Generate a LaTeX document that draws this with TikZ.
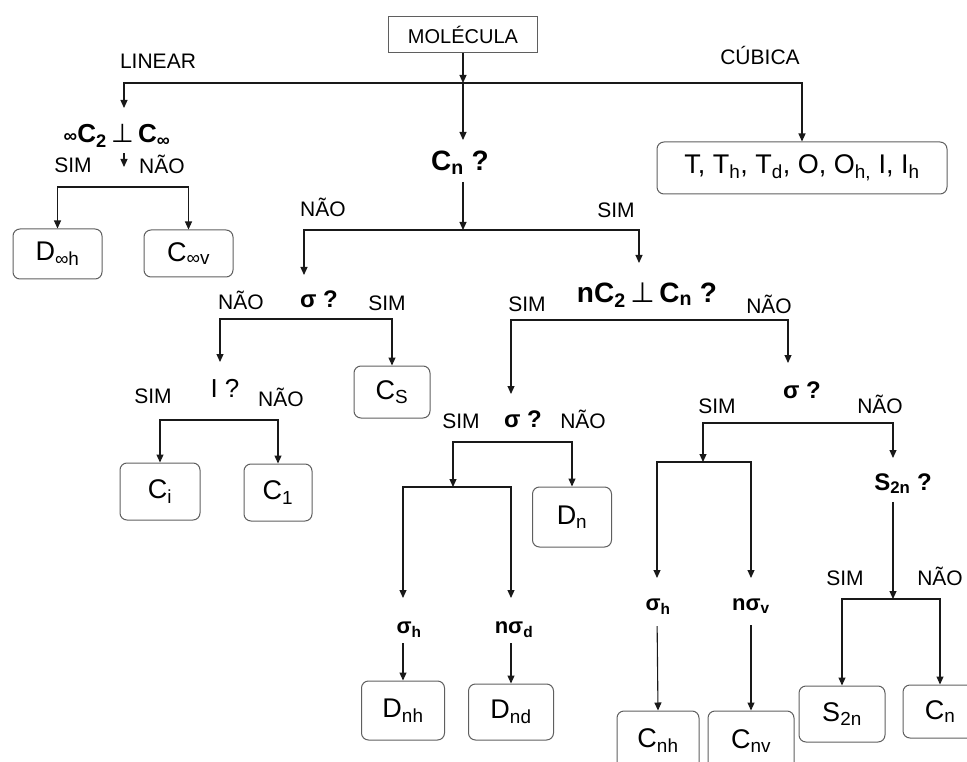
\documentclass[tikz,border=0pt]{standalone}
\usepackage{fontspec}
\setmainfont{Liberation Sans}
\newfontfamily\symfont{DejaVu Sans}
\usetikzlibrary{arrows.meta,positioning}
\definecolor{lineblk}{RGB}{25,25,25}
\definecolor{boxgray}{RGB}{95,95,95}
\newcommand{\sbs}[1]{\textsubscript{#1}}
\newcommand{\perpsym}{{\symfont\fontseries{m}\selectfont ⊥}}

\begin{document}
\begin{tikzpicture}[x=1pt,y=-1pt,
  arr/.style={-{Triangle[length=8pt,width=7pt]}, line width=1.1pt, draw=lineblk},
  molbox/.style={rectangle, draw=boxgray, line width=1pt, inner sep=0pt,
    font=\fontsize{20}{22}\selectfont},
  grp/.style={rectangle, rounded corners=7pt, draw=boxgray, line width=1pt,
    inner sep=0pt, font=\fontsize{27}{30}\selectfont},
  lbl/.style={inner sep=0pt, anchor=base, font=\fontsize{21}{23}\selectfont},
  qst/.style={inner sep=0pt, anchor=base, font=\fontsize{24}{26}\selectfont\bfseries},
  bigq/.style={qst, font=\fontsize{28}{30}\selectfont\bfseries},
  subq/.style={qst, font=\fontsize{22}{24}\selectfont\bfseries},
]
\clip (0,0) rectangle (967,762);

% top level
\node[molbox, minimum width=149pt, minimum height=36pt] (mol) at (463,35) {MOLÉCULA};
\node[lbl] (linear) at (158,69) {LINEAR};
\node[lbl] (cubica) at (760,65) {CÚBICA};
\node[grp, minimum width=290pt, minimum height=52pt] (cub) at (802,168)
  {T, T\sbs{h}, T\sbs{d}, O, O\sbs{h,} I, I\sbs{h}};
\node[subq, font=\fontsize{26}{28}\selectfont\bfseries] (lin) at (117,143)
  {{\fontsize{19}{20}\selectfont ∞}C\sbs{2}\,\perpsym\,C\sbs{∞}};
\node[bigq] (cn) at (460,171) {C\sbs{n} ?};

\coordinate (j0) at (463,83);
\coordinate (linin) at (124,108);
\coordinate (cnin) at (463,140);
\draw[arr] (mol) -- (j0);
\draw[arr] (j0) -| (linin);
\draw[arr] (j0) -- (cnin);
\draw[arr] (j0) -| (cub.north);

% linear
\node[lbl] (simA) at (73,173) {SIM};
\node[lbl] (naoA) at (162,174) {NÃO};
\coordinate (linout) at (124,167);
\coordinate (ja) at (124,187);
\node[grp, minimum width=89pt, minimum height=50pt] (dinfh) at (57.5,254) {D\sbs{∞h}};
\node[grp, minimum width=89pt, minimum height=47pt] (cinfv) at (188.5,253.5) {C\sbs{∞v}};
\draw[arr, shorten <=6pt] (lin.south -| linout) -- (linout);
\draw[arr] (ja) -| (dinfh.north);
\draw[arr] (ja) -| (cinfv.north);

% C_n ?
\node[lbl] (naoB) at (323,217) {NÃO};
\node[lbl] (simB) at (616,218) {SIM};
\coordinate (j1) at (463,230);
\coordinate (sigAin) at (304,275);
\coordinate (perpin) at (639,263);
\draw[arr, shorten <=7pt] (cn.south -| j1) -- (j1);
\draw[arr] (j1) -| (sigAin);
\draw[arr] (j1) -| (perpin);

% no C_n
\node[qst] (sigA) at (319,308) {σ ?};
\node[lbl] (naoC) at (241,309) {NÃO};
\node[lbl] (simC) at (387,310) {SIM};
\coordinate (j2) at (304,319);
\coordinate (iin) at (220,362);
\node[grp, minimum width=76pt, minimum height=52pt] (cs) at (392,392) {C\sbs{S}};
\draw[arr] (j2) -| (iin);
\draw[arr] (j2) -| (cs.north);

\node[lbl, font=\fontsize{26}{28}\selectfont] (iq) at (225,397) {I ?};
\node[lbl] (simD) at (153,403) {SIM};
\node[lbl] (naoD) at (281,406) {NÃO};
\coordinate (j3) at (219,420);
\node[grp, minimum width=80pt, minimum height=57pt] (ci) at (160,491.5) {C\sbs{i}};
\node[grp, minimum width=68pt, minimum height=57pt] (c1) at (278,492.5) {C\sbs{1}};
\draw[arr] (j3) -| (ci.north);
\draw[arr] (j3) -| (c1.north);

% nC2 perp Cn ?
\node[bigq] (perp) at (647,302) {nC\sbs{2}\,\perpsym\,C\sbs{n} ?};
\node[lbl] (simE) at (527,312) {SIM};
\node[lbl] (naoE) at (769,313) {NÃO};
\coordinate (j4) at (639,320);
\coordinate (sigBin) at (511,394);
\coordinate (sigCin) at (788,363);
\draw[arr] (j4) -| (sigBin);
\draw[arr] (j4) -| (sigCin);

% D groups
\node[qst] (sigB) at (523,427) {σ ?};
\node[lbl] (simF) at (461,428) {SIM};
\node[lbl] (naoF) at (583,428) {NÃO};
\coordinate (j5) at (511,442);
\coordinate (j6) at (453,487);
\node[grp, minimum width=79pt, minimum height=60pt] (dn) at (572,517) {D\sbs{n}};
\draw[arr] (j5) -| (dn.north);
\draw[arr] (j5) -| (j6);

\coordinate (sighin) at (403,598);
\coordinate (nsigdin) at (511,598);
\draw[arr] (j6) -| (sighin);
\draw[arr] (j6) -| (nsigdin);
\node[subq] (sigh) at (409,633) {σ\sbs{h}};
\node[subq] (nsigd) at (514,633) {nσ\sbs{d}};
\node[grp, minimum width=83pt, minimum height=59pt] (dnh) at (403,710.5) {D\sbs{nh}};
\node[grp, minimum width=85pt, minimum height=56pt] (dnd) at (511,712) {D\sbs{nd}};
\draw[arr, shorten <=6pt] (sigh.south -| sighin) -- (dnh.north);
\draw[arr, shorten <=6pt] (nsigd.south -| nsigdin) -- (dnd.north);

% C groups
\node[qst] (sigC) at (802,398) {σ ?};
\node[lbl] (simG) at (717,413) {SIM};
\node[lbl] (naoG) at (880,413) {NÃO};
\coordinate (j7) at (788,423);
\coordinate (j8) at (703,462);
\coordinate (s2nin) at (893,458);
\draw[arr] (j7) -| (j8);
\draw[arr] (j7) -| (s2nin);

\coordinate (sighbin) at (657,578);
\coordinate (nsigvin) at (751,578);
\draw[arr] (j8) -| (sighbin);
\draw[arr] (j8) -| (nsigvin);
\node[subq] (sighb) at (658,610) {σ\sbs{h}};
\node[subq] (nsigv) at (751,610) {nσ\sbs{v}};
\node[grp, minimum width=82pt, minimum height=60pt] (cnh) at (658,741) {C\sbs{nh}};
\node[grp, minimum width=86pt, minimum height=60pt] (cnv) at (751,741) {C\sbs{nv}};
\draw[arr, shorten <=12pt] (sighb.south -| sighbin) -- (cnh.north);
\draw[arr, shorten <=12pt] (nsigv.south -| nsigvin) -- (cnv.north);

\node[qst] (s2n) at (903,490) {S\sbs{2n} ?};
\node[lbl] (simH) at (845,585) {SIM};
\node[lbl] (naoH) at (940,585) {NÃO};
\coordinate (j9) at (893,599);
\node[grp, minimum width=86pt, minimum height=56pt] (s2nbox) at (842,714) {S\sbs{2n}};
\node[grp, minimum width=74pt, minimum height=53pt] (cnbox) at (940,711.5) {C\sbs{n}};
\draw[arr, shorten <=8pt] (s2n.south -| j9) -- (j9);
\draw[arr] (j9) -| (s2nbox.north);
\draw[arr] (j9) -| (cnbox.north);
\end{tikzpicture}
\end{document}
